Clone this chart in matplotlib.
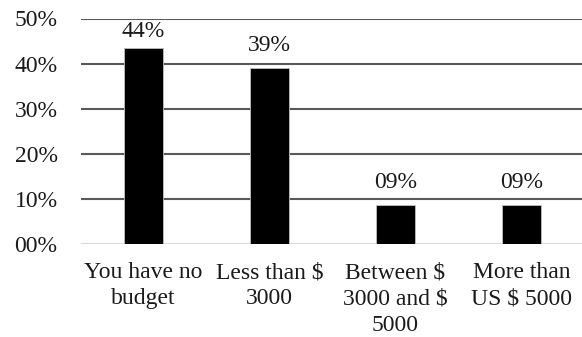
import matplotlib
matplotlib.use("Agg")
import matplotlib.pyplot as plt

categories = ["You have no\nbudget", "Less than $\n3000", "Between $\n3000 and $\n5000", "More than\nUS $ 5000"]
values = [43.48, 39.13, 8.70, 8.70]
value_labels = ["44%", "39%", "09%", "09%"]
ytick_values = [0, 10, 20, 30, 40, 50]
ytick_labels = ["00%", "10%", "20%", "30%", "40%", "50%"]

plt.rcParams['font.family'] = ['Liberation Serif', 'DejaVu Serif']
fs = 17

fig = plt.figure(figsize=(5.82, 3.37), dpi=100)
ax = fig.add_axes([80.5/582, 93/337, 504/582, 225.5/337])

x = list(range(len(categories)))
ax.bar(x, values, width=0.31, color='black', edgecolor='#bfbfbf', linewidth=0.6, zorder=3)
label_gap = 3.77      # gap between bar top and label baseline (data units)
label_max = 46.0      # labels kept inside the plot area, as the original does
for xi, v, lab in zip(x, values, value_labels):
    ax.text(xi, min(v + label_gap, label_max), lab,
            ha='center', va='baseline', fontsize=fs, color='#1a1a1a', zorder=4)

ax.set_xlim(-0.5, len(categories) - 0.5)
ax.set_ylim(0, 50)
ax.set_yticks(ytick_values)
ax.set_yticklabels(ytick_labels)
ax.set_xticks(x)
ax.set_xticklabels(categories, linespacing=1.34)
ax.tick_params(axis='both', length=0, labelsize=fs, colors='#1a1a1a')
ax.tick_params(axis='y', pad=16.5)
ax.tick_params(axis='x', pad=13)

for yv in ytick_values[1:]:
    ax.axhline(yv, color='#595959', linewidth=1.5, zorder=1)
ax.axhline(0, color='#d9d9d9', linewidth=1.5, zorder=2)

for s in ax.spines.values():
    s.set_visible(False)

fig.savefig("out.png", dpi=100)
